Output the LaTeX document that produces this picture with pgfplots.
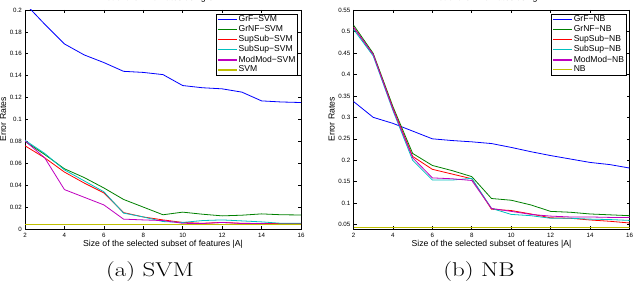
\documentclass[border=0pt]{standalone}
\usepackage{fontspec}
\usepackage{pgfplots}
\pgfplotsset{compat=1.18}
\newfontfamily\helv{Liberation Sans}
\definecolor{mblue}{rgb}{0,0,1}
\definecolor{mgreen}{rgb}{0,0.5,0}
\definecolor{mred}{rgb}{1,0,0}
\definecolor{mcyan}{rgb}{0,0.75,0.75}
\definecolor{mmag}{rgb}{0.75,0,0.75}
\definecolor{myel}{rgb}{0.75,0.75,0}
\pgfplotsset{
  mstyle/.style={
    scale only axis, width=276bp, height=219bp,
    anchor=south west,
    xmin=2, xmax=16, xtick={2,4,...,16},
    tick align=inside, major tick length=3bp,
    axis line style={line width=0.6bp},
    every tick/.append style={black, line width=0.6bp},
    /pgf/number format/assume math mode=true,
    tick label style={font=\helv\fontsize{6.2}{7}\selectfont, inner sep=0pt},
    xticklabel style={yshift=-4bp},
    yticklabel style={xshift=-3bp},
    label style={font=\helv\fontsize{8.7}{10}\selectfont},
    xlabel style={at={(axis description cs:0.5,-0.0808)}, anchor=base, inner sep=0pt},
    ylabel style={at={(axis description cs:-0.0688,0.5)}, anchor=base, rotate=0, inner sep=0pt},
    title style={font=\helv\fontsize{8.8}{10}\selectfont, at={(axis description cs:0.5,1)}, anchor=base, yshift=3.7bp, inner sep=0pt},
    legend cell align=left,
    every axis plot/.append style={line width=0.8bp},
    xlabel={Size of the selected subset of features |A|},
    ylabel={Error Rates},
  }
}
\begin{document}
\begin{tikzpicture}
\begin{axis}[mstyle, at={(25bp,57bp)},
  legend image code/.code={\draw[#1,line width=1.6bp] (0bp,0bp) -- (19bp,0bp);},
  legend style={at={(axis description cs:0.988,0.983)}, anchor=north east,
      font=\helv\fontsize{8.6}{10}\selectfont,
      inner xsep=1bp, inner ysep=1bp, row sep=0.4bp, nodes={inner sep=1bp}},
  ymin=0, ymax=0.2, ytick={0,0.02,...,0.2},
  yticklabels={0,0.02,0.04,0.06,0.08,0.1,0.12,0.14,0.16,0.18,0.2},
  title={Plot of the Error rates using SVM}]
\addplot[color=mblue, mark=none] coordinates {(2,0.206)(3,0.187)(4,0.169)(5,0.159)(6,0.152)(7,0.144)(8,0.143)(9,0.141)(10,0.131)(11,0.129)(12,0.128)(13,0.125)(14,0.117)(15,0.116)(16,0.1155)};
\addlegendentry{GrF−SVM}
\addplot[color=mgreen, mark=none] coordinates {(2,0.08)(3,0.068)(4,0.055)(5,0.047)(6,0.0375)(7,0.027)(8,0.02)(9,0.013)(10,0.0154)(11,0.0135)(12,0.012)(13,0.0126)(14,0.0138)(15,0.013)(16,0.0128)};
\addlegendentry{GrNF−SVM}
\addplot[color=mred, mark=none] coordinates {(2,0.076)(3,0.065)(4,0.052)(5,0.042)(6,0.033)(7,0.015)(8,0.011)(9,0.0083)(10,0.006)(11,0.0052)(12,0.006)(13,0.0052)(14,0.005)(15,0.005)(16,0.005)};
\addlegendentry{SupSub−SVM}
\addplot[color=mcyan, mark=none] coordinates {(2,0.081)(3,0.069)(4,0.054)(5,0.044)(6,0.034)(7,0.0145)(8,0.011)(9,0.0068)(10,0.006)(11,0.0077)(12,0.0083)(13,0.0074)(14,0.0065)(15,0.0052)(16,0.0052)};
\addlegendentry{SubSup−SVM}
\addplot[color=mmag, mark=none] coordinates {(2,0.0805)(3,0.065)(4,0.036)(5,0.029)(6,0.022)(7,0.009)(8,0.0083)(9,0.0077)(10,0.0052)(11,0.005)(12,0.006)(13,0.005)(14,0.005)(15,0.0043)(16,0.0043)};
\addlegendentry{ModMod−SVM}
\addplot[color=myel, mark=none] coordinates {(2,0.0045)(3,0.0045)(4,0.0045)(5,0.0045)(6,0.0045)(7,0.0045)(8,0.0045)(9,0.0045)(10,0.0045)(11,0.0045)(12,0.0045)(13,0.0045)(14,0.0045)(15,0.0045)(16,0.0045)};
\addlegendentry{SVM}
\end{axis}
\begin{axis}[mstyle, at={(353.5bp,57bp)},
  legend image code/.code={\draw[#1,line width=1.6bp] (0bp,0bp) -- (19bp,0bp);},
  legend style={at={(axis description cs:0.988,0.983)}, anchor=north east,
      font=\helv\fontsize{8.6}{10}\selectfont,
      inner xsep=1bp, inner ysep=1bp, row sep=0.4bp, nodes={inner sep=1bp}},
  ymin=0.04, ymax=0.55, ytick={0.05,0.1,...,0.55},
  yticklabels={0.05,0.1,0.15,0.2,0.25,0.3,0.35,0.4,0.45,0.5,0.55},
  title={Plot of the Error rates using NB}]
\addplot[color=mblue, mark=none] coordinates {(2,0.337)(3,0.300)(4,0.286)(5,0.268)(6,0.25)(7,0.246)(8,0.243)(9,0.239)(10,0.23)(11,0.22)(12,0.211)(13,0.203)(14,0.195)(15,0.19)(16,0.182)};
\addlegendentry{GrF−NB}
\addplot[color=mgreen, mark=none] coordinates {(2,0.515)(3,0.449)(4,0.325)(5,0.216)(6,0.188)(7,0.176)(8,0.162)(9,0.111)(10,0.107)(11,0.096)(12,0.081)(13,0.079)(14,0.075)(15,0.073)(16,0.071)};
\addlegendentry{GrNF−NB}
\addplot[color=mred, mark=none] coordinates {(2,0.51)(3,0.446)(4,0.321)(5,0.209)(6,0.179)(7,0.168)(8,0.157)(9,0.086)(10,0.083)(11,0.075)(12,0.066)(13,0.065)(14,0.061)(15,0.058)(16,0.054)};
\addlegendentry{SupSub−NB}
\addplot[color=mcyan, mark=none] coordinates {(2,0.505)(3,0.443)(4,0.316)(5,0.2)(6,0.154)(7,0.154)(8,0.158)(9,0.088)(10,0.074)(11,0.071)(12,0.065)(13,0.065)(14,0.063)(15,0.062)(16,0.06)};
\addlegendentry{SubSup−NB}
\addplot[color=mmag, mark=none] coordinates {(2,0.51)(3,0.446)(4,0.319)(5,0.206)(6,0.159)(7,0.157)(8,0.153)(9,0.088)(10,0.081)(11,0.074)(12,0.07)(13,0.068)(14,0.068)(15,0.067)(16,0.067)};
\addlegendentry{ModMod−NB}
\addplot[color=myel, mark=none] coordinates {(2,0.044)(3,0.044)(4,0.044)(5,0.044)(6,0.044)(7,0.044)(8,0.044)(9,0.044)(10,0.044)(11,0.044)(12,0.044)(13,0.044)(14,0.044)(15,0.044)(16,0.044)};
\addlegendentry{NB}
\end{axis}
\node[font=\fontsize{20}{24}\selectfont, anchor=base, inner sep=0pt] at (150bp,10bp) {\scalebox{1.25}[1]{(a) SVM}};
\node[font=\fontsize{20}{24}\selectfont, anchor=base, inner sep=0pt] at (479bp,10bp) {\scalebox{1.25}[1]{(b) NB}};
\pgfresetboundingbox
\path (0bp,0bp) rectangle (634bp,286bp);
\end{tikzpicture}
\end{document}
